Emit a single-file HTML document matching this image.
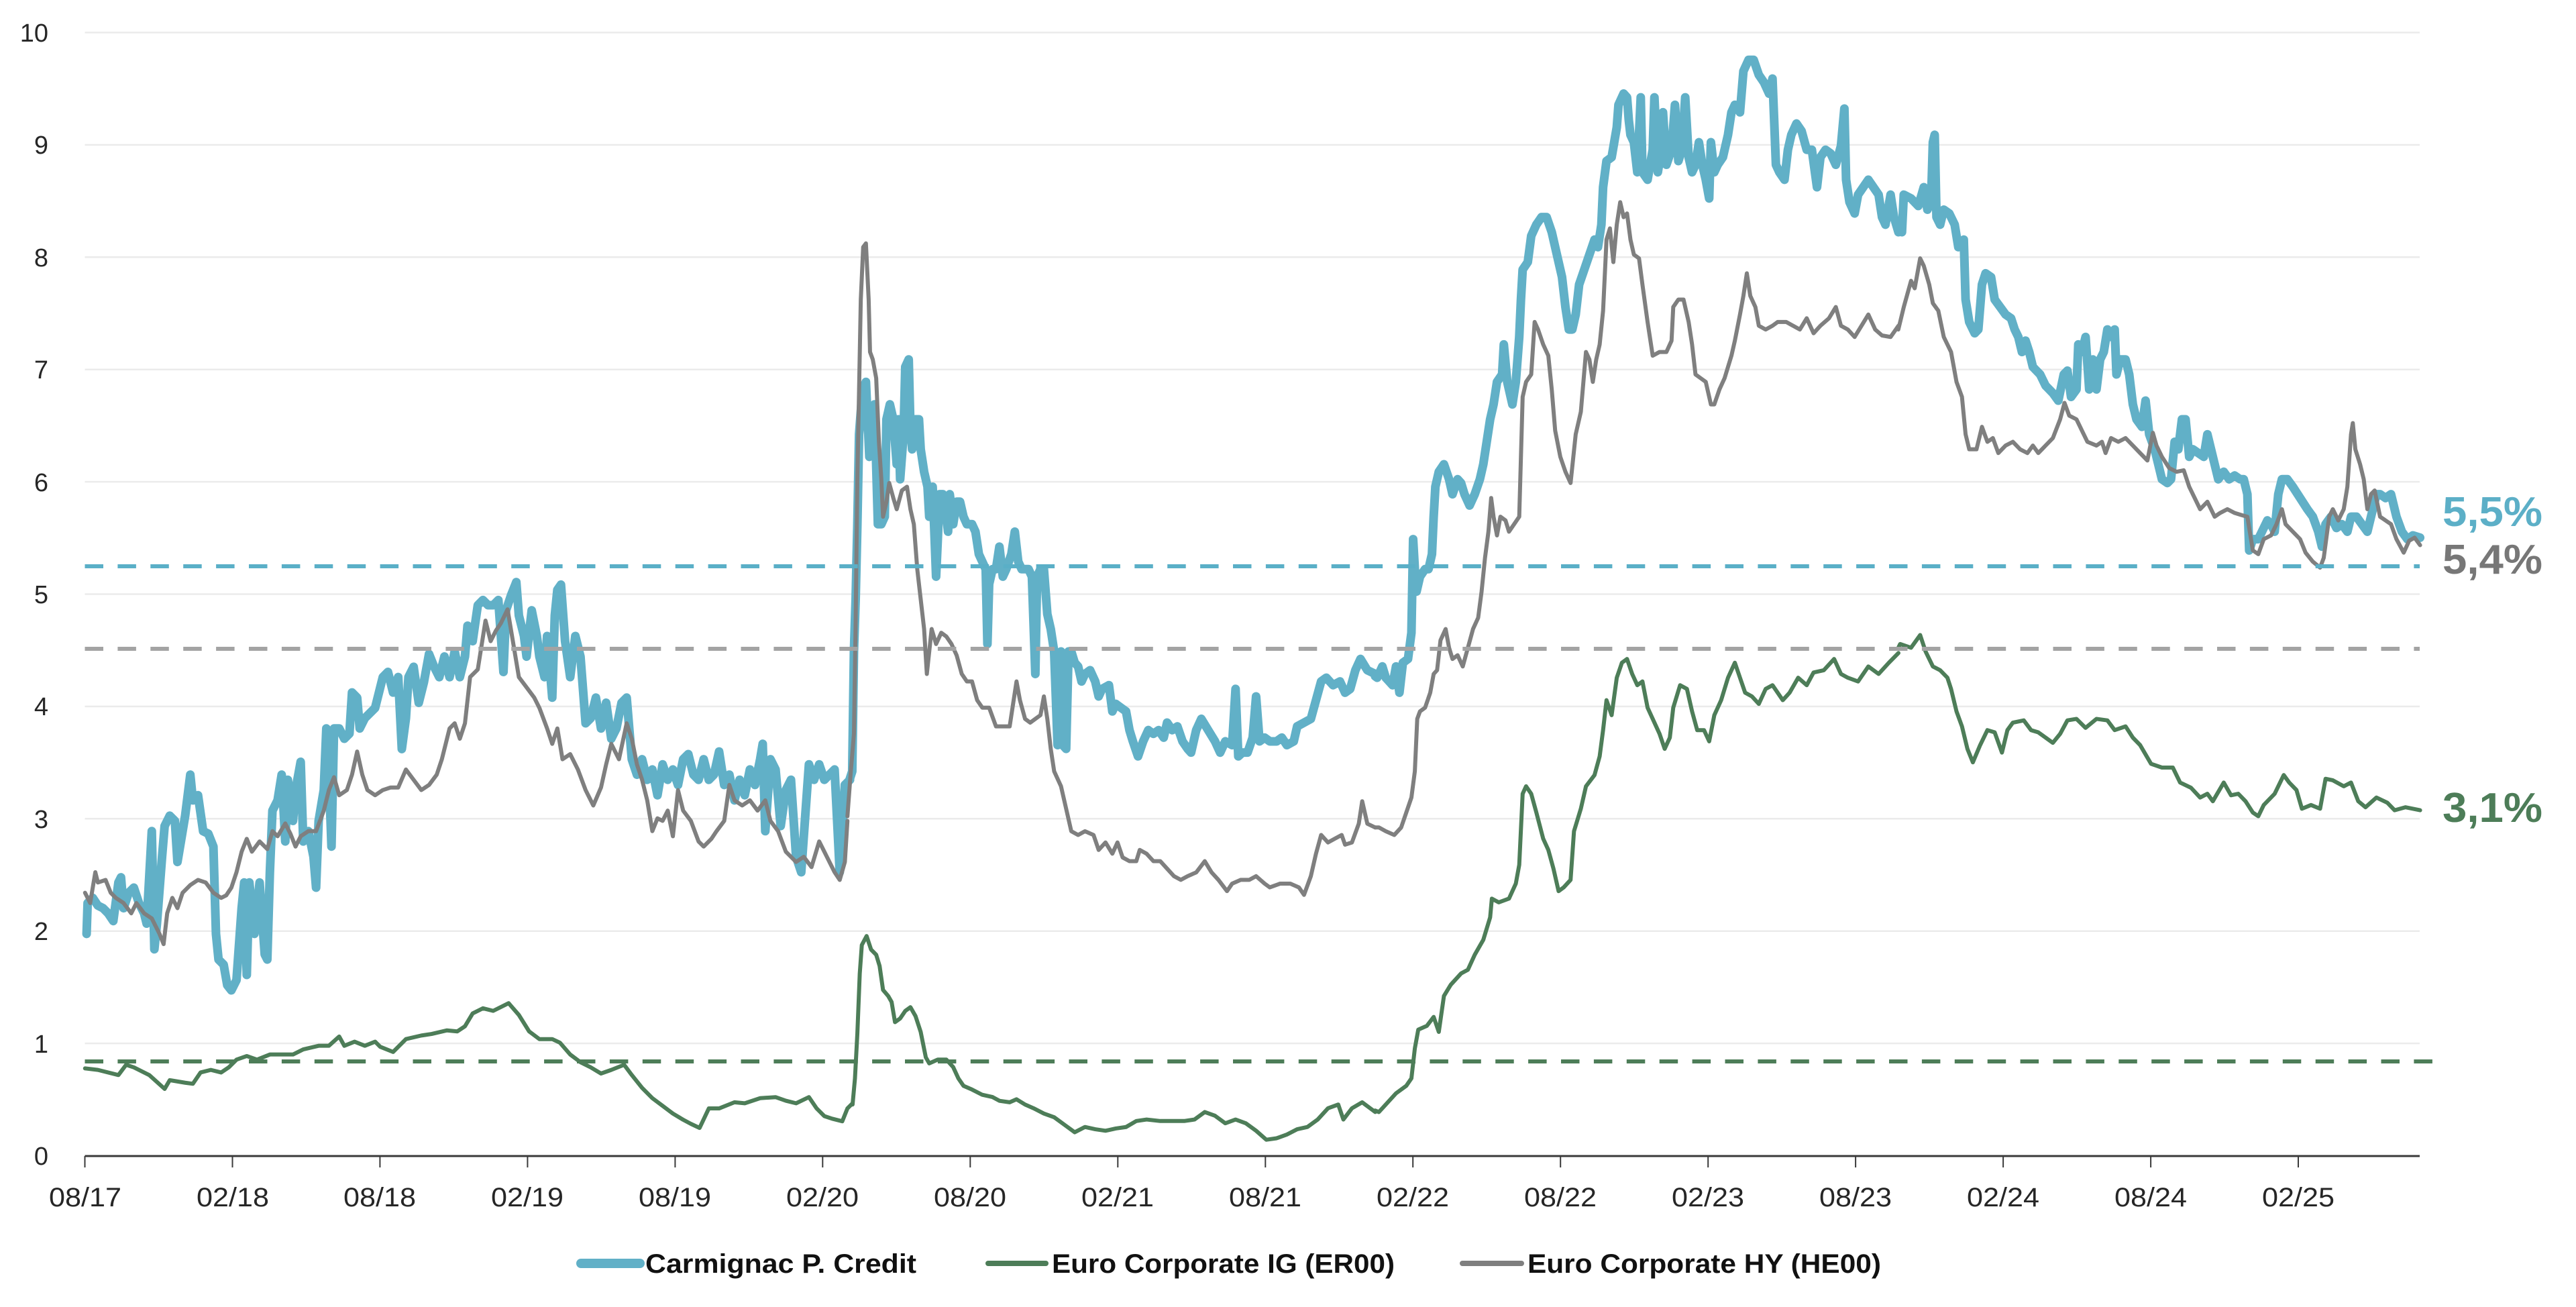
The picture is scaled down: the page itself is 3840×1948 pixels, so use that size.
<!DOCTYPE html>
<html>
<head>
<meta charset="utf-8">
<style>
html,body{margin:0;padding:0;background:#ffffff;}
body{width:3840px;height:1948px;overflow:hidden;}
svg{display:block;}
text{font-family:"Liberation Sans",Arial,sans-serif;}
.s{fill:none;stroke-linejoin:round;stroke-linecap:round;}
</style>
</head>
<body>
<svg width="3840" height="1948" viewBox="0 0 3840 1948" xmlns="http://www.w3.org/2000/svg">
<rect x="0" y="0" width="3840" height="1948" fill="#ffffff"/>

<!-- gridlines -->
<g stroke="#ebebeb" stroke-width="2.5">
<line x1="126.5" y1="1555.1" x2="3607" y2="1555.1"/>
<line x1="126.5" y1="1387.7" x2="3607" y2="1387.7"/>
<line x1="126.5" y1="1220.3" x2="3607" y2="1220.3"/>
<line x1="126.5" y1="1052.9" x2="3607" y2="1052.9"/>
<line x1="126.5" y1="885.5" x2="3607" y2="885.5"/>
<line x1="126.5" y1="718.1" x2="3607" y2="718.1"/>
<line x1="126.5" y1="550.7" x2="3607" y2="550.7"/>
<line x1="126.5" y1="383.3" x2="3607" y2="383.3"/>
<line x1="126.5" y1="215.9" x2="3607" y2="215.9"/>
<line x1="126.5" y1="48.5" x2="3607" y2="48.5"/>
</g>

<!-- y labels -->
<g font-size="38" fill="#262626" text-anchor="end">
<text x="72" y="1736">0</text>
<text x="72" y="1569">1</text>
<text x="72" y="1401">2</text>
<text x="72" y="1234">3</text>
<text x="72" y="1066">4</text>
<text x="72" y="899">5</text>
<text x="72" y="732">6</text>
<text x="72" y="564">7</text>
<text x="72" y="397">8</text>
<text x="72" y="229">9</text>
<text x="72" y="62">10</text>
</g>

<!-- axis -->
<line x1="126.5" y1="1723" x2="3607" y2="1723" stroke="#3a3a3a" stroke-width="3"/>
<g stroke="#3a3a3a" stroke-width="2">
<line x1="126.5" y1="1723" x2="126.5" y2="1740"/>
<line x1="346.5" y1="1723" x2="346.5" y2="1740"/>
<line x1="566.4" y1="1723" x2="566.4" y2="1740"/>
<line x1="786.4" y1="1723" x2="786.4" y2="1740"/>
<line x1="1006.4" y1="1723" x2="1006.4" y2="1740"/>
<line x1="1226.3" y1="1723" x2="1226.3" y2="1740"/>
<line x1="1446.3" y1="1723" x2="1446.3" y2="1740"/>
<line x1="1666.3" y1="1723" x2="1666.3" y2="1740"/>
<line x1="1886.3" y1="1723" x2="1886.3" y2="1740"/>
<line x1="2106.2" y1="1723" x2="2106.2" y2="1740"/>
<line x1="2326.2" y1="1723" x2="2326.2" y2="1740"/>
<line x1="2546.2" y1="1723" x2="2546.2" y2="1740"/>
<line x1="2766.1" y1="1723" x2="2766.1" y2="1740"/>
<line x1="2986.1" y1="1723" x2="2986.1" y2="1740"/>
<line x1="3206.1" y1="1723" x2="3206.1" y2="1740"/>
<line x1="3426" y1="1723" x2="3426" y2="1740"/>
</g>

<!-- x labels -->
<g font-size="40" fill="#262626" text-anchor="middle">
<text x="127" y="1798" textLength="108" lengthAdjust="spacingAndGlyphs">08/17</text>
<text x="347" y="1798" textLength="108" lengthAdjust="spacingAndGlyphs">02/18</text>
<text x="566" y="1798" textLength="108" lengthAdjust="spacingAndGlyphs">08/18</text>
<text x="786" y="1798" textLength="108" lengthAdjust="spacingAndGlyphs">02/19</text>
<text x="1006" y="1798" textLength="108" lengthAdjust="spacingAndGlyphs">08/19</text>
<text x="1226" y="1798" textLength="108" lengthAdjust="spacingAndGlyphs">02/20</text>
<text x="1446" y="1798" textLength="108" lengthAdjust="spacingAndGlyphs">08/20</text>
<text x="1666" y="1798" textLength="108" lengthAdjust="spacingAndGlyphs">02/21</text>
<text x="1886" y="1798" textLength="108" lengthAdjust="spacingAndGlyphs">08/21</text>
<text x="2106" y="1798" textLength="108" lengthAdjust="spacingAndGlyphs">02/22</text>
<text x="2326" y="1798" textLength="108" lengthAdjust="spacingAndGlyphs">08/22</text>
<text x="2546" y="1798" textLength="108" lengthAdjust="spacingAndGlyphs">02/23</text>
<text x="2766" y="1798" textLength="108" lengthAdjust="spacingAndGlyphs">08/23</text>
<text x="2986" y="1798" textLength="108" lengthAdjust="spacingAndGlyphs">02/24</text>
<text x="3206" y="1798" textLength="108" lengthAdjust="spacingAndGlyphs">08/24</text>
<text x="3426" y="1798" textLength="108" lengthAdjust="spacingAndGlyphs">02/25</text>
</g>

<!-- ===== TEAL series (Carmignac P. Credit) ===== -->
<g class="s" stroke="#61b0c7" stroke-width="13">
<g transform="translate(100,550) scale(0.7653)">
<polyline vector-effect="non-scaling-stroke" class="s" points="38,1100 40,1040 50,1030 60,1045 70,1050 80,1060 90,1075 100,1000 105,990 110,1050 120,1020 130,1010 140,1040 150,1060 155,1080 165,900 170,1130 175,1080 185,950 190,890 200,870 210,880 215,960 225,900 230,870 240,790 245,840 255,830 265,900 275,905 285,930 290,1100 295,1150 305,1160 312,1200 320,1210 330,1190 340,1050 345,1000 350,1180 355,1000 365,1100 375,1000 385,1140 390,1150 395,980 400,860 410,840 418,790 425,920 430,800 440,880 445,820 455,765 460,920 470,900 480,950 485,1010 490,880 500,820 505,700 510,790 515,930 520,700 530,700 540,720 550,710 555,630 565,640 570,700 580,680 590,670 600,660 615,600 625,590 635,630 645,600 652,740 660,680 665,600 675,580 685,650 695,610 705,555 715,580 725,600 735,560 745,600 755,550 765,600 775,560 780,500 790,530 800,460 810,450 820,460 830,460 840,450 850,590 855,470 865,440 875,415 880,480 890,520 895,560 905,470 915,520 920,560 930,600 935,520 945,640 950,480 955,430 962,420 970,530 980,600 990,520 1000,560 1010,690 1020,680 1030,640 1040,700 1050,650 1060,720 1070,700 1080,650 1090,640 1095,700 1100,760 1110,790 1120,760 1130,800 1140,780 1150,830 1160,770 1170,800 1180,780 1190,810 1200,760 1210,750 1220,790 1230,800 1240,760 1250,800 1260,790 1270,745 1280,810 1290,790 1300,840 1310,800 1320,830 1330,780 1340,810 1350,760 1355,730 1360,900 1370,760 1380,780 1390,890 1400,820 1410,800 1420,950 1430,980 1440,840 1445,770 1455,800 1465,770 1475,800 1485,790 1495,780 1505,980 1515,810 1525,800"/>
</g>
<g transform="translate(1250,0) scale(0.5102,1.1161)">
<polyline vector-effect="non-scaling-stroke" class="s" points="33,1040 40,1030 45,870 50,800 55,700 60,580 70,520 80,510 85,560 90,610 100,580 105,540 110,620 115,700 125,700 135,690 140,560 150,540 160,560 170,620 175,560 180,640 190,580 195,490 205,480 210,570 215,600 225,560 235,560 240,600 250,630 260,650 265,690 275,650 285,770 290,720 295,660 305,660 315,690 320,710 325,660 335,700 345,670 355,670 365,690 375,700 390,700 400,710 410,740 420,750 430,760 435,860 440,780 450,760 460,760 470,730 480,770 490,760 505,740 515,710 525,750 535,760 545,760 555,760 565,770 575,900 580,770 590,760 600,760 610,820 620,840 630,870 640,995 645,880 650,870 655,995 665,1000 672,870 680,870 690,885 700,890 710,910 720,900 735,895 750,910 760,930 770,920 790,915 800,950 810,940 825,945 840,950 850,975 860,990 875,1010 890,990 905,975 920,980 935,975 950,985 960,965 975,975 990,970 1005,990 1020,1000 1030,1005 1045,975 1060,960 1080,975 1100,990 1115,1005 1130,990 1150,995 1160,920 1168,1010 1180,1005 1195,1005 1210,985 1220,930 1230,990 1245,985 1260,990 1280,990 1295,985 1310,995 1330,990 1340,970 1360,965 1380,960 1395,935 1410,910 1425,905 1445,915 1465,910 1480,925 1495,920 1510,895 1525,880 1545,895 1568,900"/>
</g>
<g transform="translate(2030,0) scale(0.5102,1.1161)">
<polyline vector-effect="non-scaling-stroke" class="s" points="39,903 45,905 60,890 70,905 80,910 90,915 100,890 110,925 120,885 135,880 145,845 150,720 155,760 160,790 170,770 185,760 195,760 205,740 210,690 215,650 225,630 240,620 255,640 265,660 280,640 290,645 300,660 315,675 330,660 345,640 355,620 365,590 375,560 385,540 395,510 410,500 415,460 425,510 440,540 450,510 460,450 465,400 470,360 485,350 495,315 510,300 525,290 540,290 555,310 570,340 585,370 595,410 605,440 615,440 625,420 635,380 650,360 665,340 680,320 690,330 700,300 705,250 715,215 730,210 745,170 750,140 765,125 775,130 780,160 785,180 795,190 805,230 815,130 820,230 835,240 850,200 855,130 865,230 875,200 880,150 890,220 905,200 915,140 925,215 935,200 945,130 955,210 965,230 975,220 985,190 995,220 1005,240 1015,265 1020,190 1030,230 1040,220 1055,210 1070,180 1080,150 1090,140 1105,150 1115,95 1130,80 1145,80 1160,100 1175,110 1190,125 1200,105 1210,220 1220,230 1235,240 1245,200 1255,180 1270,165 1285,175 1300,200 1315,200 1330,250 1340,210 1355,200 1370,205 1385,220 1400,195 1410,145 1415,240 1425,270 1440,285 1450,260 1465,250 1480,240 1495,250 1510,260 1520,290 1530,300 1545,260 1555,290 1568,310"/>
</g>
<g transform="translate(2800,0) scale(0.542,1.1161)">
<polyline vector-effect="non-scaling-stroke" class="s" points="55,305 65,310 70,260 90,265 110,275 125,250 135,280 145,270 150,190 155,180 160,290 170,300 180,280 195,285 210,300 220,330 235,320 240,400 250,430 265,445 275,440 285,380 295,365 310,370 320,400 335,410 350,420 365,425 375,440 385,450 395,470 405,455 415,470 425,490 435,495 445,500 460,515 480,525 495,535 510,500 520,495 530,530 545,520 550,460 560,470 570,450 580,520 590,480 600,520 610,480 620,470 630,440 640,450 650,440 655,500 665,480 680,480 690,500 700,540 710,560 725,570 735,535 745,580 760,600 770,620 780,640 795,645 805,640 815,590 825,600 835,560 845,560 855,610 865,600 880,605 895,610 905,580 915,600 925,620 935,640 950,630 965,640 980,635 995,640 1005,640 1015,660 1020,735 1030,720 1045,720 1055,710 1070,695 1080,700 1090,710 1100,660 1110,640 1125,640 1140,650 1160,665 1180,680 1195,690 1210,710 1220,730 1230,700 1245,690 1260,705 1275,700 1290,710 1300,690 1315,690 1330,700 1345,710 1360,680 1370,660 1380,660 1395,665 1410,660 1425,690 1440,710 1455,720 1470,715 1490,718"/>
</g>
</g>

<!-- ===== GREEN series (Euro Corporate IG) ===== -->
<g class="s" stroke="#4d7d58" stroke-width="6">
<g transform="translate(100,550) scale(0.7653)">
<polyline vector-effect="non-scaling-stroke" class="s" points="35,1362 60,1365 100,1375 115,1355 130,1360 160,1375 190,1402 200,1385 230,1390 245,1392 260,1370 280,1365 300,1370 315,1360 330,1345 350,1338 370,1345 395,1335 420,1335 440,1335 460,1325 490,1318 510,1318 530,1300 540,1318 560,1310 580,1318 600,1310 610,1320 635,1330 660,1305 690,1298 710,1295 740,1288 760,1290 775,1280 790,1255 810,1245 830,1250 860,1235 880,1258 900,1290 920,1305 945,1305 960,1312 980,1335 1000,1350 1020,1360 1040,1372 1060,1365 1085,1355 1100,1375 1120,1400 1140,1420 1160,1435 1180,1450 1200,1462 1215,1470 1232,1478 1250,1440 1270,1440 1300,1428 1320,1430 1350,1420 1380,1418 1400,1425 1420,1430 1445,1418 1460,1440 1475,1455 1490,1460 1510,1465 1520,1440 1530,1430"/>
</g>
<g transform="translate(1250,0) scale(0.5102,1.1161)">
<polyline vector-effect="non-scaling-stroke" class="s" points="41,1475 48,1440 55,1380 62,1300 68,1262 82,1250 95,1268 110,1275 120,1290 130,1322 145,1330 155,1338 165,1365 180,1360 195,1350 210,1345 225,1357 240,1378 255,1412 265,1420 290,1415 315,1415 335,1425 350,1440 365,1450 390,1455 420,1462 450,1465 470,1470 500,1472 520,1468 545,1475 570,1480 600,1487 630,1492 660,1502 690,1512 720,1505 750,1508 780,1510 810,1507 840,1505 870,1497 900,1495 940,1497 980,1497 1010,1497 1040,1495 1070,1485 1100,1490 1130,1500 1160,1495 1190,1500 1220,1510 1250,1522 1280,1520 1310,1515 1340,1508 1370,1505 1400,1495 1430,1480 1460,1475 1475,1495 1500,1480 1530,1472 1568,1485"/>
</g>
<g transform="translate(2030,0) scale(0.5102,1.1161)">
<polyline vector-effect="non-scaling-stroke" class="s" points="39,1483 50,1485 70,1475 100,1460 130,1450 145,1440 155,1400 165,1375 190,1370 210,1358 225,1378 240,1330 260,1315 290,1300 310,1295 330,1275 355,1255 375,1225 380,1200 400,1205 430,1200 450,1180 460,1155 470,1060 480,1050 495,1060 510,1085 530,1120 545,1135 560,1160 575,1190 590,1185 610,1175 620,1110 640,1080 655,1050 680,1035 695,1010 705,975 715,935 730,955 745,905 760,885 775,880 790,900 805,915 820,910 835,945 855,965 870,980 885,1000 900,985 910,945 930,915 950,920 965,950 980,975 1000,975 1015,990 1030,955 1050,935 1070,905 1090,885 1105,905 1120,925 1140,930 1160,940 1180,920 1200,915 1230,935 1250,925 1275,905 1300,915 1320,898 1350,895 1380,880 1400,900 1420,905 1450,910 1480,890 1510,900 1540,885 1568,872"/>
</g>
<g transform="translate(2800,0) scale(0.542,1.1161)">
<polyline vector-effect="non-scaling-stroke" class="s" points="55,865 60,860 90,865 115,848 130,870 150,890 170,895 190,905 200,920 215,950 230,970 245,1000 260,1018 280,995 300,975 320,978 340,1005 355,975 370,965 400,962 420,975 440,978 460,985 480,992 500,980 520,962 545,960 570,972 600,960 630,962 650,975 680,970 700,985 720,995 750,1020 780,1025 810,1025 830,1045 860,1052 885,1065 905,1060 920,1070 950,1045 970,1062 990,1060 1010,1070 1030,1085 1045,1090 1060,1075 1090,1060 1115,1035 1130,1045 1150,1055 1165,1080 1190,1075 1215,1080 1230,1040 1250,1042 1280,1050 1300,1045 1320,1070 1340,1078 1370,1065 1400,1072 1420,1082 1450,1078 1490,1082"/>
</g>
</g>

<!-- ===== GRAY series (Euro Corporate HY) ===== -->
<g class="s" stroke="#7f7f7f" stroke-width="6">
<g transform="translate(100,550) scale(0.7653)">
<polyline vector-effect="non-scaling-stroke" class="s" points="35,1020 45,1040 55,980 60,1000 75,995 85,1020 95,1030 110,1040 125,1060 135,1040 150,1060 165,1070 180,1100 188,1120 195,1060 205,1030 215,1050 225,1020 240,1005 255,995 270,1000 285,1020 300,1030 310,1025 320,1010 330,980 340,940 350,915 360,940 375,920 390,935 400,900 410,910 425,885 435,905 445,930 455,910 470,900 485,900 500,860 510,820 520,795 530,830 545,820 555,790 565,745 575,790 585,820 600,830 615,820 630,815 645,815 660,780 675,800 690,820 705,810 720,790 730,760 745,700 755,690 765,720 775,690 785,600 800,585 815,490 825,530 835,510 845,495 858,468 870,540 880,600 895,620 910,640 920,660 935,700 945,730 955,700 965,760 980,750 995,780 1010,820 1025,850 1040,815 1050,770 1060,730 1075,760 1090,690 1100,720 1110,770 1120,800 1130,840 1140,900 1150,875 1160,880 1170,860 1180,910 1190,820 1200,860 1215,880 1230,920 1240,930 1255,915 1265,900 1280,880 1290,810 1300,840 1315,850 1330,840 1345,860 1360,840 1370,880 1385,900 1400,940 1420,960 1435,950 1450,970 1465,920 1480,950 1495,980 1505,995 1515,960 1520,880"/>
</g>
<g transform="translate(1250,0) scale(0.5102,1.1161)">
<polyline vector-effect="non-scaling-stroke" class="s" points="26,1090 35,1035 45,980 50,830 55,640 60,520 65,400 72,330 80,325 88,400 92,470 100,480 110,505 118,590 125,640 130,690 140,670 148,645 160,665 170,680 185,655 200,650 210,680 220,700 230,760 240,800 250,840 258,900 265,870 272,840 285,860 300,845 315,850 330,860 345,875 360,900 375,910 390,910 405,935 420,945 440,945 460,970 480,970 500,970 510,940 520,910 530,935 545,960 560,965 575,960 590,955 600,930 610,960 620,1000 630,1030 650,1050 665,1080 680,1110 700,1115 720,1110 745,1115 760,1135 780,1125 800,1140 815,1125 830,1145 850,1150 870,1150 880,1135 900,1140 920,1150 940,1150 960,1160 980,1170 1000,1175 1020,1170 1045,1165 1070,1150 1090,1165 1110,1175 1135,1190 1150,1180 1175,1175 1200,1175 1220,1170 1245,1180 1260,1185 1290,1180 1320,1180 1345,1185 1360,1195 1380,1170 1395,1140 1410,1115 1430,1125 1450,1120 1470,1115 1480,1128 1500,1125 1520,1100 1530,1070 1545,1100 1568,1105"/>
</g>
<g transform="translate(2030,0) scale(0.5102,1.1161)">
<polyline vector-effect="non-scaling-stroke" class="s" points="39,1105 50,1105 70,1110 95,1115 115,1105 130,1085 145,1065 155,1030 162,960 170,950 185,945 200,925 210,900 220,895 230,855 245,840 255,865 265,880 280,875 295,890 310,865 325,840 340,825 350,790 360,745 370,710 378,665 385,690 395,715 405,690 420,695 430,710 445,700 460,690 470,530 480,510 495,500 505,430 515,440 530,460 545,475 555,520 565,575 580,610 595,630 610,645 625,580 640,550 655,470 665,480 675,510 685,480 695,460 705,415 715,320 725,305 735,350 745,300 755,270 765,290 775,285 785,320 795,340 810,345 820,380 835,430 850,475 870,470 890,470 905,455 910,410 925,400 940,400 955,430 965,460 975,500 990,505 1005,510 1020,540 1030,540 1045,520 1060,505 1080,475 1090,455 1105,420 1115,395 1125,365 1135,395 1150,410 1160,435 1180,440 1200,435 1215,430 1240,430 1260,435 1280,440 1300,425 1320,445 1340,435 1365,425 1385,410 1400,435 1420,440 1440,450 1460,435 1480,420 1500,440 1520,448 1545,450 1568,435"/>
</g>
<g transform="translate(2800,0) scale(0.542,1.1161)">
<polyline vector-effect="non-scaling-stroke" class="s" points="55,440 70,410 90,375 100,385 115,345 125,355 140,380 150,405 165,415 180,450 190,460 200,470 215,510 230,530 240,580 250,600 270,600 285,570 300,590 315,585 330,605 350,595 370,590 390,600 410,605 425,595 440,605 460,595 480,585 500,560 512,538 525,555 545,560 560,575 575,590 600,595 615,590 625,605 640,585 660,590 680,585 700,595 720,605 740,615 755,578 765,595 780,610 800,625 820,630 840,628 855,650 870,665 885,680 905,670 925,690 940,685 960,680 980,685 1000,688 1015,690 1030,735 1045,740 1060,720 1080,715 1095,700 1110,680 1120,700 1140,710 1160,720 1175,738 1195,750 1215,758 1225,745 1240,690 1250,680 1265,695 1280,680 1290,650 1300,580 1305,565 1312,600 1325,620 1335,640 1345,680 1355,660 1365,655 1380,690 1395,695 1410,700 1425,720 1445,738 1460,722 1475,718 1490,728"/>
</g>
</g>

<!-- dashed average lines -->
<line x1="126.5" y1="844" x2="3607" y2="844" stroke="#5aafc7" stroke-width="6" stroke-dasharray="27.5 21.4"/>
<line x1="126.5" y1="967" x2="3607" y2="967" stroke="#a3a3a3" stroke-width="6" stroke-dasharray="27.5 21.4"/>
<line x1="126.5" y1="1582" x2="3628" y2="1582" stroke="#4d7d58" stroke-width="6" stroke-dasharray="27.5 21.4"/>

<!-- right end labels -->
<g font-size="62" font-weight="bold">
<text x="3641" y="784" fill="#5cafc7" textLength="149" lengthAdjust="spacingAndGlyphs">5,5%</text>
<text x="3641" y="855" fill="#777777" textLength="149" lengthAdjust="spacingAndGlyphs">5,4%</text>
<text x="3641" y="1225" fill="#4d7d58" textLength="149" lengthAdjust="spacingAndGlyphs">3,1%</text>
</g>

<!-- legend -->
<line x1="866" y1="1883" x2="954" y2="1883" stroke="#61b0c7" stroke-width="14" stroke-linecap="round"/>
<text x="962" y="1897" font-size="40" font-weight="bold" fill="#111111" textLength="404" lengthAdjust="spacingAndGlyphs">Carmignac P. Credit</text>
<line x1="1473" y1="1883" x2="1559" y2="1883" stroke="#4d7d58" stroke-width="8" stroke-linecap="round"/>
<text x="1568" y="1897" font-size="40" font-weight="bold" fill="#111111" textLength="511" lengthAdjust="spacingAndGlyphs">Euro Corporate IG (ER00)</text>
<line x1="2180" y1="1883" x2="2268" y2="1883" stroke="#7f7f7f" stroke-width="8" stroke-linecap="round"/>
<text x="2277" y="1897" font-size="40" font-weight="bold" fill="#111111" textLength="527" lengthAdjust="spacingAndGlyphs">Euro Corporate HY (HE00)</text>
</svg>
</body>
</html>
